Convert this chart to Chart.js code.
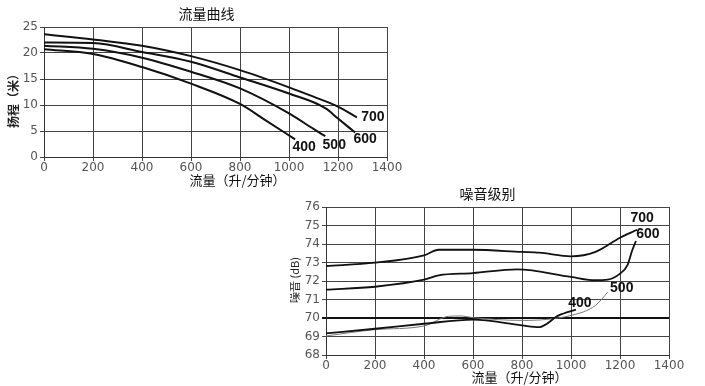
<!DOCTYPE html>
<html>
<head>
<meta charset="utf-8">
<script src="https://cdn.jsdelivr.net/npm/chart.js@4/dist/chart.umd.min.js"></script>
<style>
  body { margin: 0; background: #fff; width: 705px; height: 386px; position: relative; overflow: hidden; }
  canvas { position: absolute; }
  #headChart { left: 0; top: 0; }
  #noiseChart { left: 290px; top: 182px; }
</style>
</head>
<body>
<canvas id="headChart" width="410" height="192"></canvas>
<canvas id="noiseChart" width="415" height="204"></canvas>
<script>
// 流量曲线 (扬程 vs 流量)
const seriesNames = ['400', '500', '600', '700'];
const headFlow400 = [0, 200, 400, 600, 800, 900, 1025];
const head400 = [20.7, 19.8, 17.3, 14.1, 10.2, 7.2, 3.4];
const headFlow500 = [0, 200, 400, 600, 800, 1000, 1100, 1148];
const head500 = [21.4, 20.8, 19.1, 16.4, 13.2, 8.4, 5.4, 4.0];
const headFlow600 = [0, 200, 400, 600, 800, 1000, 1148, 1200, 1270];
const head600 = [22.0, 21.9, 20.2, 18.3, 15.3, 12.2, 9.4, 7.4, 4.7];
const headFlow700 = [0, 200, 400, 600, 800, 1000, 1100, 1200, 1277];
const head700 = [23.6, 22.6, 21.4, 19.4, 16.7, 13.4, 11.6, 9.7, 7.6];

// 噪音级别 (dB vs 流量)
const noiseFlow400 = [0, 200, 400, 600, 800, 870, 950, 1020];
const noise400 = [69.17, 69.42, 69.69, 69.91, 69.60, 69.51, 70.14, 70.45];
const noiseFlow500 = [0, 200, 400, 500, 550, 600, 800, 1000, 1100, 1150];
const noise500 = [69.03, 69.37, 69.57, 70.09, 70.11, 70.02, 69.87, 70.14, 70.68, 71.40];
const noiseFlow600 = [0, 200, 400, 460, 600, 780, 1000, 1100, 1150, 1200, 1230, 1250, 1265];
const noise600 = [71.53, 71.69, 72.07, 72.31, 72.43, 72.63, 72.22, 72.04, 72.07, 72.40, 72.85, 73.66, 74.16];
const noiseFlow700 = [0, 200, 400, 460, 600, 800, 870, 1000, 1100, 1200, 1270];
const noise700 = [72.81, 72.99, 73.39, 73.69, 73.69, 73.57, 73.53, 73.33, 73.57, 74.34, 74.77];

const flowTicks = [0, 200, 400, 600, 800, 1000, 1200, 1400];

const CJK = '"Noto Sans CJK SC", sans-serif';
const LATIN = '"Liberation Sans", Arial, sans-serif';
const TICKFONT = '"DejaVu Sans", sans-serif';

function pts(xs, ys) {
    return xs.map((x, i) => ({ x: x, y: ys[i] }));
}

// 在每条曲线末端写上型号
const endLabels = {
    id: 'endLabels',
    afterDatasetsDraw(chart, args, opts) {
        const ctx = chart.ctx;
        ctx.save();
        ctx.font = 'bold 14px ' + LATIN;
        ctx.fillStyle = '#111';
        ctx.textAlign = 'center';
        ctx.textBaseline = 'middle';
        chart.data.datasets.forEach((ds, i) => {
            const last = ds.data[ds.data.length - 1];
            const px = chart.scales.x.getPixelForValue(last.x);
            const py = chart.scales.y.getPixelForValue(last.y);
            const off = opts.offsets[i];
            ctx.fillText(ds.label, px + off[0], py + off[1]);
        });
        ctx.restore();
    }
};

// 标题和坐标轴名称（相对绘图区定位）
const captions = {
    id: 'captions',
    afterDraw(chart, args, opts) {
        const ctx = chart.ctx;
        const a = chart.chartArea;
        const cx = (a.left + a.right) / 2;
        const cy = (a.top + a.bottom) / 2;
        ctx.save();
        ctx.textAlign = 'center';
        ctx.textBaseline = 'middle';
        ctx.fillStyle = '#111';
        ctx.font = opts.title.size + 'px ' + CJK;
        ctx.fillText(opts.title.text, cx + opts.title.dx, a.top + opts.title.dy);
        ctx.font = opts.xTitle.size + 'px ' + CJK;
        ctx.fillText(opts.xTitle.text, cx + opts.xTitle.dx, a.bottom + opts.xTitle.dy);
        ctx.translate(a.left + opts.yTitle.dx, cy + opts.yTitle.dy);
        ctx.rotate(-Math.PI / 2);
        ctx.fillStyle = '#222';
        ctx.font = opts.yTitle.weight + ' ' + opts.yTitle.size + 'px ' + CJK;
        ctx.fillText(opts.yTitle.text, 0, 0);
        ctx.restore();
    }
};

function baseOptions(yMin, yMax, yStep, pad, yWidth, xHeight) {
    return {
        responsive: false,
        animation: false,
        layout: { padding: pad },
        plugins: {
            legend: { display: false },
            tooltip: { enabled: false },
            title: { display: false }
        },
        scales: {
            x: {
                type: 'linear',
                min: 0, max: 1400,
                afterBuildTicks: s => { s.ticks = flowTicks.map(v => ({ value: v })); },
                ticks: { color: '#555', font: { family: TICKFONT, size: 12 }, padding: 0, maxRotation: 0,
                         callback: v => String(v) },
                grid: { color: '#444', lineWidth: 1, tickLength: 4 },
                border: { color: '#333' },
                afterFit: s => { s.height = xHeight; }
            },
            y: {
                min: yMin, max: yMax,
                ticks: { stepSize: yStep, color: '#555', font: { family: TICKFONT, size: 12 }, padding: 2,
                         callback: v => String(v) },
                grid: { color: '#444', lineWidth: 1, tickLength: 4 },
                border: { color: '#333' },
                afterFit: s => { s.width = yWidth; }
            }
        }
    };
}

function lineDs(label, data, color, width) {
    return {
        label: label,
        data: data,
        borderColor: color,
        borderWidth: width,
        pointRadius: 0,
        fill: false,
        cubicInterpolationMode: 'monotone'
    };
}

// 上图：流量曲线
const headOpts = baseOptions(0, 25, 5, { left: 0, right: 23, top: 27, bottom: 0 }, 44, 35);
headOpts.plugins.endLabels = { offsets: [[9, 8], [9, 9], [10, 7], [16, 0]] };
headOpts.plugins.captions = {
    title: { text: '流量曲线', size: 14, dx: -9, dy: -13 },
    xTitle: { text: '流量（升/分钟）', size: 13, dx: 22, dy: 23 },
    yTitle: { text: '扬程（米）', size: 12, weight: 'bold', dx: -31, dy: 6 }
};

new Chart(document.getElementById('headChart'), {
    type: 'line',
    data: {
        datasets: [
            lineDs(seriesNames[0], pts(headFlow400, head400), '#111', 2),
            lineDs(seriesNames[1], pts(headFlow500, head500), '#111', 2),
            lineDs(seriesNames[2], pts(headFlow600, head600), '#111', 2),
            lineDs(seriesNames[3], pts(headFlow700, head700), '#111', 2)
        ]
    },
    options: headOpts,
    plugins: [endLabels, captions]
});

// 下图：噪音级别
const noiseOpts = baseOptions(68, 76, 1, { left: 0, right: 36, top: 25, bottom: 0 }, 36, 31);
noiseOpts.scales.y.grid.color = ctx => ctx.tick && ctx.tick.value === 70 ? '#111' : '#444';
noiseOpts.scales.y.grid.lineWidth = ctx => ctx.tick && ctx.tick.value === 70 ? 2 : 1;
noiseOpts.plugins.endLabels = { offsets: [[4, -7], [14, -4], [12, -7], [5, -12]] };
noiseOpts.plugins.captions = {
    title: { text: '噪音级别', size: 14, dx: -10, dy: -13 },
    xTitle: { text: '流量（升/分钟）', size: 13, dx: 22, dy: 22 },
    yTitle: { text: '噪音 (dB)', size: 11, weight: 'normal', dx: -31, dy: -1 }
};

new Chart(document.getElementById('noiseChart'), {
    type: 'line',
    data: {
        datasets: [
            lineDs(seriesNames[0], pts(noiseFlow400, noise400), '#111', 1.8),
            lineDs(seriesNames[1], pts(noiseFlow500, noise500), '#777', 1),
            lineDs(seriesNames[2], pts(noiseFlow600, noise600), '#111', 1.8),
            lineDs(seriesNames[3], pts(noiseFlow700, noise700), '#111', 1.8)
        ]
    },
    options: noiseOpts,
    plugins: [endLabels, captions]
});
</script>
</body>
</html>
